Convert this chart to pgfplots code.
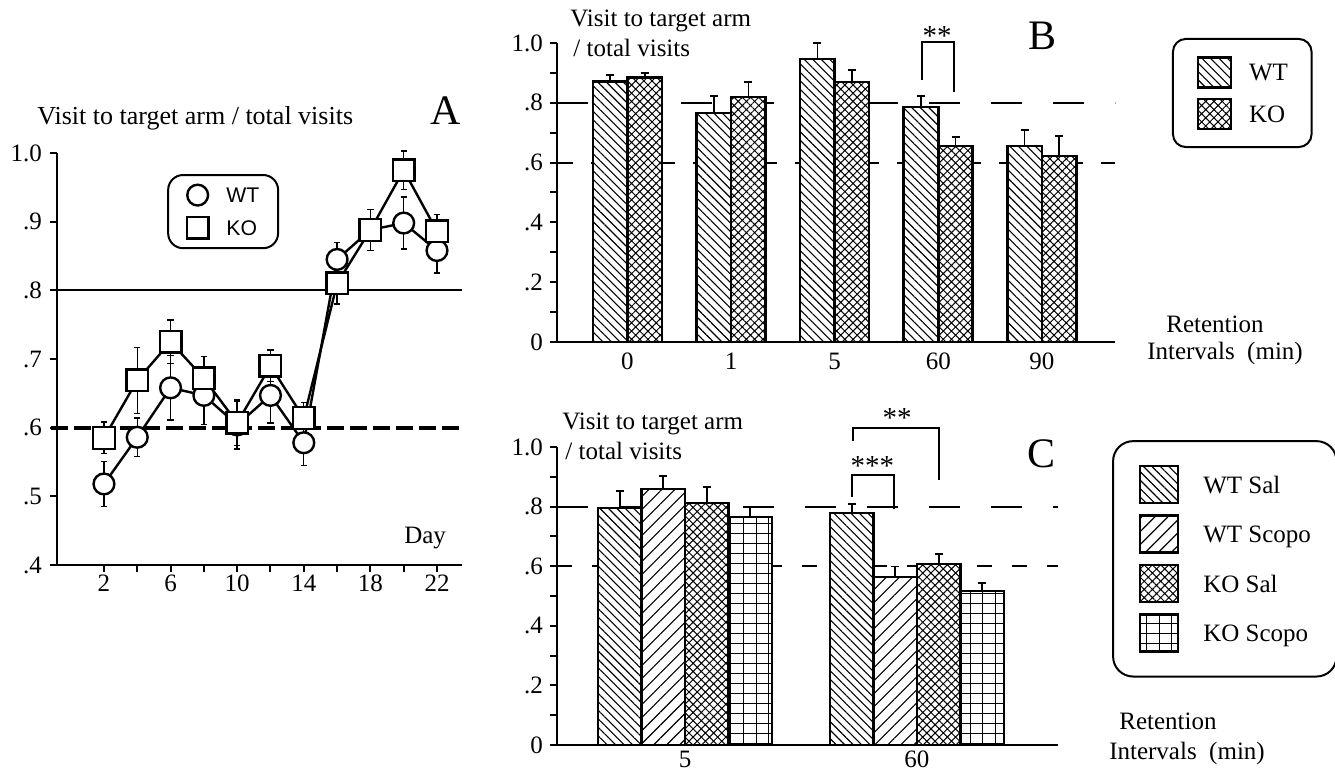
\documentclass[border=0pt]{standalone}
\usepackage{fontspec}
\setmainfont{Liberation Serif}
\newfontfamily\arialfont{Liberation Sans}
\usepackage{pgfplots}
\usepackage{pgfplotstable}
\pgfplotsset{compat=1.18}
\usetikzlibrary{patterns,patterns.meta}

\newcommand\tf{\fontsize{12.5}{15}\selectfont}
\newcommand\bigf{\fontsize{21}{25}\selectfont}
\newcommand\astf{\fontsize{14.5}{16}\selectfont}

\pgfdeclarepatternformonly{kogrid}{\pgfqpoint{-1pt}{-1pt}}{\pgfqpoint{7.3pt}{6pt}}{\pgfqpoint{6.3pt}{5pt}}{%
  \pgfsetlinewidth{0.5pt}%
  \pgfpathmoveto{\pgfqpoint{0pt}{0pt}}\pgfpathlineto{\pgfqpoint{6.4pt}{0pt}}%
  \pgfpathmoveto{\pgfqpoint{0pt}{0pt}}\pgfpathlineto{\pgfqpoint{0pt}{5.1pt}}%
  \pgfusepath{stroke}}

\pgfplotsset{
  barbase/.style={draw=black, line width=1.3pt, fill=white},
  wt/.style={barbase, postaction={pattern={Lines[angle=-45,distance=3pt,line width=0.55pt]}}},
  wtscopo/.style={barbase, postaction={pattern={Lines[angle=45,distance=4.6pt,line width=0.55pt]}}},
  ko/.style={barbase, postaction={pattern={Hatch[angle=45,distance=2.9pt,line width=0.5pt]}}},
  koscopo/.style={barbase, postaction={pattern=kogrid}},
  errB/.style={/pgfplots/error bars/y dir=plus, /pgfplots/error bars/y explicit,
    /pgfplots/error bars/error bar style={line width=0.8pt},
    /pgfplots/error bars/error mark options={rotate=90, line width=0.8pt, mark size=2pt}},
}

% Panel A data
\pgfplotstableread{
d y e
2 0.518 0.033
4 0.586 0.028
6 0.658 0.047
8 0.647 0.042
10 0.604 0.035
12 0.647 0.040
14 0.578 0.033
16 0.845 0.025
18 0.888 0.030
20 0.898 0.038
22 0.858 0.033
}\Awt
\pgfplotstableread{
d y e
2 0.585 0.023
4 0.669 0.048
6 0.725 0.032
8 0.672 0.032
10 0.607 0.033
12 0.690 0.023
14 0.614 0.023
16 0.810 0.030
18 0.888 0.030
20 0.975 0.028
22 0.886 0.024
}\Ako
% Panel B data (x: 0=0 min, 1=1, 2=5, 3=60, 4=90)
\pgfplotstableread{
x y e
0 0.871 0.022
1 0.766 0.057
2 0.946 0.054
3 0.786 0.037
4 0.656 0.053
}\Bwt
\pgfplotstableread{
x y e
0 0.885 0.015
1 0.819 0.050
2 0.870 0.040
3 0.656 0.030
4 0.622 0.067
}\Bko
% Panel C data (x: 0=5 min, 1=60 min)
\pgfplotstableread{
x y e
0 0.795 0.057
1 0.778 0.031
}\Cwtsal
\pgfplotstableread{
x y e
0 0.859 0.044
1 0.564 0.035
}\Cwtscopo
\pgfplotstableread{
x y e
0 0.812 0.054
1 0.607 0.034
}\Ckosal
\pgfplotstableread{
x y e
0 0.765 0.034
1 0.517 0.027
}\Ckoscopo

\begin{document}
\begin{tikzpicture}
\useasboundingbox (0,0) rectangle (667.5pt,387pt);

% ---------------- Panel A ----------------
\begin{axis}[
  at={(28.5pt,104.5pt)}, anchor=south west,
  scale only axis, width=202.5pt, height=206pt,
  xmin=-0.82, xmax=23.5, ymin=0.4, ymax=1.0,
  axis x line*=bottom, axis y line*=left,
  axis line style={line width=1.2pt},
  xtick={2,4,6,8,10,12,14,16,18,20,22},
  xticklabels={2,,6,,10,,14,,18,,22},
  ytick={0.4,0.5,0.6,0.7,0.8,0.9,1.0},
  yticklabels={.4,.5,.6,.7,.8,.9,1.0},
  tick align=outside, major tick length=3.5pt,
  tick style={line width=1pt,black},
  tick label style={font=\tf},
  xticklabel style={yshift=2pt},
  yticklabel style={xshift=-0.5pt},
  clip=false,
  legend image code/.code={\draw[#1,/tikz/.cd,only marks,sharp corners] plot coordinates {(0pt,0pt)};},
  legend style={at={(0.272,0.949)}, anchor=north west, draw=black, line width=1pt,
    rounded corners=7.5pt, inner xsep=9.35pt, inner ysep=4.85pt, row sep=5.7pt,
    column sep=9pt, nodes={inner sep=0pt, text depth=0pt},
    font=\arialfont\fontsize{10.6}{12}\selectfont},
  legend cell align=left,
]
\draw[line width=1pt] (axis cs:-0.82,0.8) -- (axis cs:23.5,0.8);
\draw[line width=2pt, dash pattern=on 8.5pt off 3pt] (axis cs:-1.2,0.6) -- (axis cs:23.5,0.6);
\addplot[black, line width=1.2pt, mark=*, mark size=5.2pt,
  mark options={fill=white, line width=1.2pt},
  error bars/.cd, y dir=both, y explicit,
  error bar style={line width=0.7pt},
  error mark options={rotate=90, line width=0.7pt, mark size=1.6pt}]
  table[x=d,y=y,y error=e]{\Awt};
\addlegendentry{WT}
\addplot[black, line width=1.2pt, mark=square*, mark size=5.4pt,
  mark options={fill=white, line width=1.2pt},
  error bars/.cd, y dir=both, y explicit,
  error bar style={line width=0.7pt},
  error mark options={rotate=90, line width=0.7pt, mark size=1.6pt}]
  table[x=d,y=y,y error=e]{\Ako};
\addlegendentry{KO}
\node[font=\tf, anchor=base east] at (axis cs:22.96,0.432) {Day};
\end{axis}
\node[font=\fontsize{13}{15}\selectfont, anchor=base west, inner sep=0pt] at (18.5pt,324.5pt) {Visit to target arm / total visits};
\node[font=\bigf, anchor=base west, inner sep=0pt] at (215pt,324.5pt) {A};

% ---------------- Panel B ----------------
\begin{axis}[
  /pgfplots/ybar legend/.style={/pgfplots/legend image code/.code={\draw[##1,/tikz/.cd,sharp corners] (0pt,-7.5pt) rectangle (16.5pt,7.5pt);}},
  at={(278.5pt,216pt)}, anchor=south west,
  scale only axis, width=279pt, height=149.5pt,
  ybar=0pt, bar width=17.25pt,
  xmin=-0.68, xmax=4.706, ymin=0, ymax=1,
  axis x line*=bottom, axis y line*=left,
  axis line style={line width=1pt},
  xtick={0,1,2,3,4}, xticklabels={0,1,5,60,90},
  x tick style={draw=none},
  ytick={0,0.2,0.4,0.6,0.8,1}, yticklabels={0,.2,.4,.6,.8,1.0},
  minor ytick={0.1,0.3,0.5,0.7,0.9},
  tick align=outside, major tick length=3.5pt, minor tick length=3.5pt,
  y tick style={line width=1pt,black},
  tick label style={font=\tf},
  xticklabel style={yshift=1.5pt},
  clip=false,
  legend style={at={(1.102,1.017)}, anchor=north west, draw=black, line width=1pt,
    rounded corners=6.5pt, inner xsep=11.8pt, inner ysep=8.5pt, row sep=4.5pt,
    column sep=8.5pt, nodes={inner sep=0pt, text depth=0pt}, font=\tf},
  legend cell align=left,
]
\draw[line width=1pt, dash pattern=on 15.5pt off 15.5pt] (axis cs:-0.68,0.8) -- (axis cs:4.706,0.8);
\draw[line width=1pt, dash pattern=on 8pt off 9pt] (axis cs:-0.68,0.6) -- (axis cs:4.706,0.6);
\addplot[wt, errB] table[x=x,y=y,y error=e]{\Bwt};
\addlegendentry{WT}
\addplot[ko, errB] table[x=x,y=y,y error=e]{\Bko};
\addlegendentry{KO}
\draw[line width=1pt] (axis cs:2.843,0.876) |- (axis cs:3.151,1.003) -- (axis cs:3.151,0.836);
\node[font=\astf, anchor=base, inner sep=0pt] at (axis cs:2.99,0.99) {**};
\end{axis}
\node[font=\tf, anchor=base west, inner sep=0pt] at (285pt,373.5pt) {Visit to target arm};
\node[font=\tf, anchor=base west, inner sep=0pt] at (286.5pt,358.5pt) {/ total visits};
\node[font=\bigf, anchor=base west, inner sep=0pt] at (514pt,362pt) {B};
\node[font=\tf, anchor=base, inner sep=0pt] at (607.5pt,220.5pt) {Retention};
\node[font=\tf, anchor=base, inner sep=0pt] at (612.5pt,207pt) {Intervals\ \ (min)};

% ---------------- Panel C ----------------
\begin{axis}[
  /pgfplots/ybar legend/.style={/pgfplots/legend image code/.code={\draw[##1,/tikz/.cd,sharp corners] (0pt,-9.25pt) rectangle (19pt,9.25pt);}},
  at={(278.5pt,14.5pt)}, anchor=south west,
  scale only axis, width=250.5pt, height=149pt,
  ybar=0pt, bar width=21.75pt,
  xmin=-0.552, xmax=1.608, ymin=0, ymax=1,
  axis x line*=bottom, axis y line*=left,
  axis line style={line width=1pt},
  xtick={0,1}, xticklabels={5,60},
  x tick style={draw=none},
  ytick={0,0.2,0.4,0.6,0.8,1}, yticklabels={0,.2,.4,.6,.8,1.0},
  minor ytick={0.1,0.3,0.5,0.7,0.9},
  tick align=outside, major tick length=3.5pt, minor tick length=3.5pt,
  y tick style={line width=1pt,black},
  tick label style={font=\tf},
  xticklabel style={yshift=4pt},
  clip=false,
  legend style={at={(1.108,1.023)}, anchor=north west, draw=black, line width=1pt,
    rounded corners=10pt, inner xsep=12.8pt, inner ysep=11.75pt, row sep=5pt,
    column sep=12pt, nodes={inner sep=0pt, text depth=0pt}, font=\tf},
  legend cell align=left,
]
\draw[line width=1pt, dash pattern=on 15.5pt off 15.5pt] (axis cs:-0.552,0.8) -- (axis cs:1.608,0.8);
\draw[line width=1pt, dash pattern=on 7.5pt off 10pt] (axis cs:-0.552,0.6) -- (axis cs:1.608,0.6);
\addplot[wt, errB] table[x=x,y=y,y error=e]{\Cwtsal};
\addlegendentry{WT Sal}
\addplot[wtscopo, errB] table[x=x,y=y,y error=e]{\Cwtscopo};
\addlegendentry{WT Scopo}
\addplot[ko, errB] table[x=x,y=y,y error=e]{\Ckosal};
\addlegendentry{KO Sal}
\addplot[koscopo, errB] table[x=x,y=y,y error=e]{\Ckoscopo};
\addlegendentry{KO Scopo}
\draw[line width=1pt] (axis cs:0.72,0.832) |- (axis cs:0.90,0.906) -- (axis cs:0.90,0.792);
\node[font=\astf, anchor=base, inner sep=0pt] at (axis cs:0.808,0.905) {***};
\draw[line width=1pt] (axis cs:0.724,1.02) |- (axis cs:1.095,1.064) -- (axis cs:1.095,0.889);
\node[font=\astf, anchor=base, inner sep=0pt] at (axis cs:0.914,1.064) {**};
\end{axis}
\node[font=\tf, anchor=base west, inner sep=0pt] at (281pt,172pt) {Visit to target arm};
\node[font=\tf, anchor=base west, inner sep=0pt] at (282.5pt,157pt) {/ total visits};
\node[font=\bigf, anchor=base west, inner sep=0pt] at (513.5pt,153pt) {C};
\node[font=\tf, anchor=base, inner sep=0pt] at (584pt,22pt) {Retention};
\node[font=\tf, anchor=base, inner sep=0pt] at (593.5pt,7pt) {Intervals\ \ (min)};
\end{tikzpicture}
\end{document}
